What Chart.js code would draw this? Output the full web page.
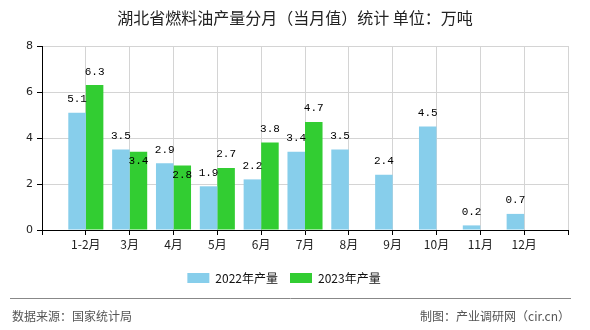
<!DOCTYPE html>
<html>
<head>
<meta charset="utf-8">
<script src="https://cdn.jsdelivr.net/npm/chart.js@4/dist/chart.umd.min.js"></script>
<style>
  html, body { margin: 0; padding: 0; background: #fff; }
  #wrap { width: 590px; height: 330px; position: relative; }
</style>
</head>
<body>
<div id="wrap"><canvas id="c" width="590" height="330"></canvas></div>
<script>
// empty first/last labels give the half-slot padding at each end
const months = ['', '1-2月', '3月', '4月', '5月', '6月', '7月', '8月', '9月', '10月', '11月', '12月', ''];
const output2022 = [null, 5.1, 3.5, 2.9, 1.9, 2.2, 3.4, 3.5, 2.4, 4.5, 0.2, 0.7, null];
const output2023 = [null, 6.3, 3.4, 2.8, 2.7, 3.8, 4.7, null, null, null, null, null, null];
const yTicks = [0, 2, 4, 6, 8];

const titleText = '湖北省燃料油产量分月（当月值）统计 单位：万吨';
const sourceText = '数据来源：国家统计局';
const makerText = '制图：产业调研网（cir.cn）';

const cjk = '"Noto Sans CJK SC", "Noto Sans", sans-serif';

// title, footer and value labels
const decor = {
  id: 'decor',
  afterDatasetsDraw(chart) {
    const ctx = chart.ctx;
    const w = chart.width;
    ctx.save();
    ctx.fillStyle = '#222';
    ctx.font = '16px ' + cjk;
    ctx.textAlign = 'center';
    ctx.textBaseline = 'middle';
    ctx.fillText(titleText, w / 2, 18);

    ctx.strokeStyle = '#888';
    ctx.lineWidth = 1;
    ctx.beginPath();
    ctx.moveTo(10, 298.5);
    ctx.lineTo(571, 298.5);
    ctx.stroke();

    ctx.fillStyle = '#555';
    ctx.font = '12px ' + cjk;
    ctx.textAlign = 'left';
    ctx.fillText(sourceText, 12, 316);
    ctx.textAlign = 'right';
    ctx.fillText(makerText, 570, 316);

    // value labels
    ctx.font = '11px "Liberation Mono", "DejaVu Sans Mono", monospace';
    ctx.fillStyle = '#000';
    ctx.textAlign = 'center';
    ctx.textBaseline = 'bottom';
    const m0 = chart.getDatasetMeta(0);
    const m1 = chart.getDatasetMeta(1);
    m0.data.forEach((bar, i) => {
      const v = output2022[i];
      if (v == null) return;
      ctx.fillText(v.toFixed(1), bar.x, bar.y - 8);
    });
    m1.data.forEach((bar, i) => {
      const v = output2023[i];
      if (v == null) return;
      const other = m0.data[i];
      // if the label would collide with the neighbour's, tuck it inside the bar
      if (output2022[i] != null && Math.abs(other.y - bar.y) < 12) {
        ctx.textBaseline = 'top';
        ctx.fillText(v.toFixed(1), bar.x, bar.y + 4);
        ctx.textBaseline = 'bottom';
      } else {
        ctx.fillText(v.toFixed(1), bar.x, bar.y - 8);
      }
    });
    ctx.restore();
  }
};

new Chart(document.getElementById('c'), {
  type: 'bar',
  data: {
    labels: months,
    datasets: [
      { label: '2022年产量', data: output2022, backgroundColor: '#87CEEB' },
      { label: '2023年产量', data: output2023, backgroundColor: '#32CD32' }
    ]
  },
  options: {
    responsive: false,
    animation: false,
    layout: { padding: { top: 46, right: 22, bottom: 36, left: 0 } },
    datasets: { bar: { categoryPercentage: 0.8, barPercentage: 1.0 } },
    scales: {
      x: {
        offset: false,
        grid: { color: '#d4d4d4', tickColor: '#000', tickLength: 5, offset: false },
        border: { color: '#000' },
        ticks: { color: '#222', font: { size: 12, family: cjk }, maxRotation: 0, autoSkip: false, padding: 2 },
        afterFit(scale) { scale.height = 30; }
      },
      y: {
        min: 0, max: 8,
        afterBuildTicks(scale) { scale.ticks = yTicks.map(v => ({ value: v })); },
        grid: { color: '#d4d4d4', tickColor: '#000', tickLength: 5 },
        border: { color: '#000' },
        ticks: { color: '#222', font: { size: 11, family: '"DejaVu Sans", sans-serif' }, padding: 4 },
        afterFit(scale) { scale.width = 42; }
      }
    },
    plugins: {
      title: { display: false },
      tooltip: { enabled: false },
      legend: {
        position: 'bottom',
        labels: {
          boxWidth: 22, boxHeight: 10, padding: 12,
          color: '#111',
          font: { size: 12, family: cjk }
        }
      }
    }
  },
  plugins: [decor]
});
</script>
</body>
</html>
